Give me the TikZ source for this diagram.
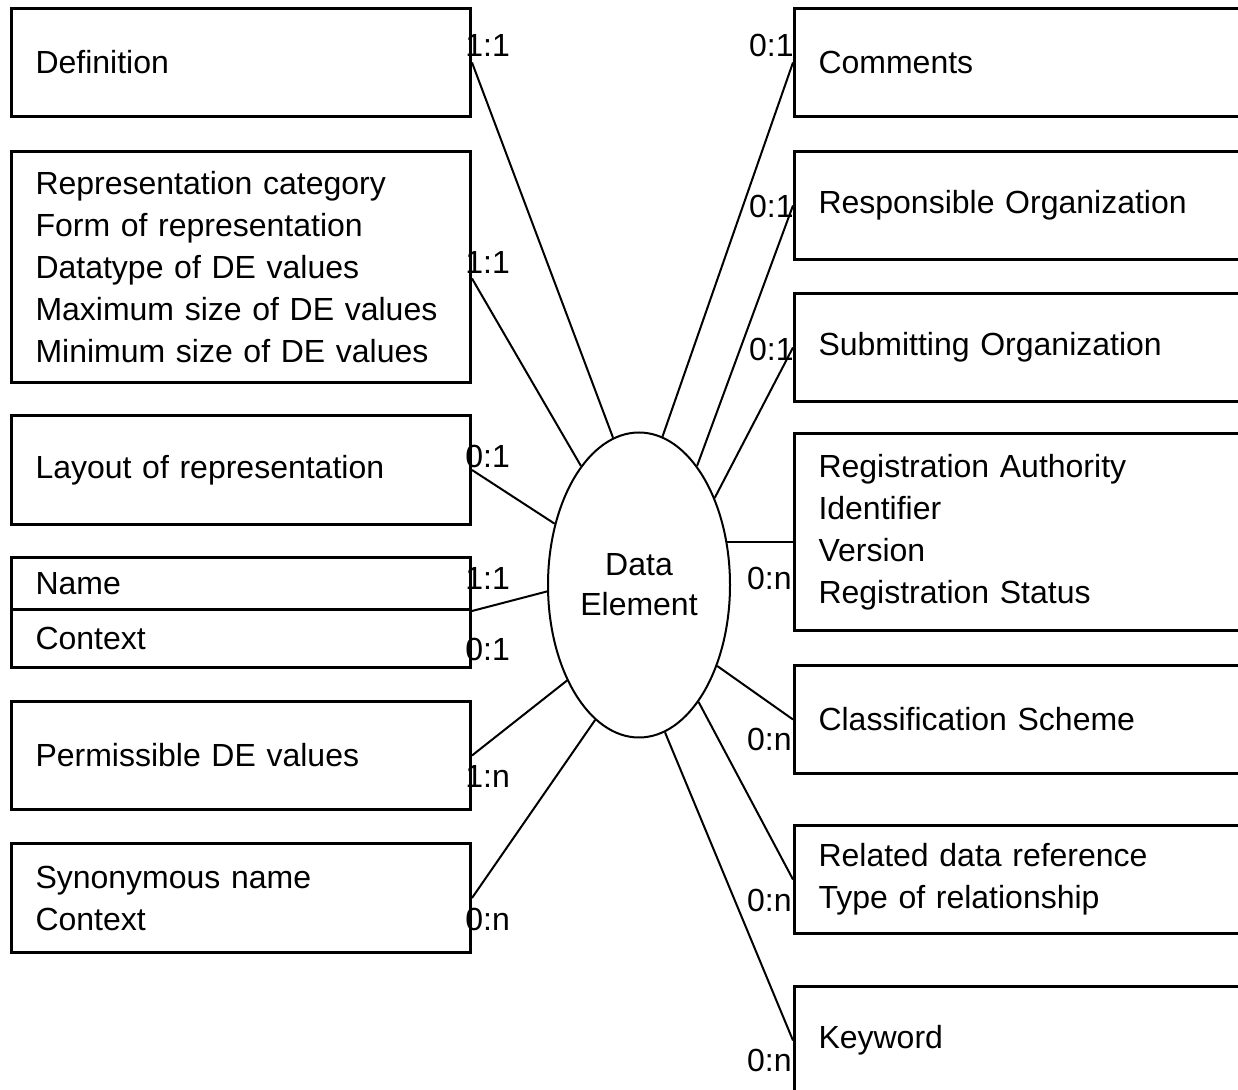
\documentclass[tikz,border=0pt]{standalone}
\usepackage{fontspec}
\setmainfont{Liberation Sans}
\usetikzlibrary{shapes.geometric, positioning}
\tikzset{
attr/.style={draw, line width=1.5pt, anchor=north west, align=left, text width=205.5pt, inner xsep=12pt, inner ysep=0pt, font=\fontsize{16}{21}\selectfont}, % the attribute boxes
card/.style={inner sep=0pt, font=\fontsize{16}{19}\selectfont}, % cardinality labels
link/.style={line width=1pt}, % the connectors
}

\begin{document}
\begin{tikzpicture}[x=0.5pt, y=-0.5pt]
                \useasboundingbox (0,0) rectangle (1238,1090);
                % left column
                \node[attr, minimum height=54pt] (def) at (10,7) {Definition};
                \node[attr, minimum height=115.5pt] (rep) at (10,150) {Representation category\\Form of representation\\Datatype of DE values\\Maximum size of DE values\\Minimum size of DE values};
                \node[attr, minimum height=54.5pt] (lay) at (10,414) {Layout of representation};
                \node[attr, minimum height=26pt] (name) at (10,556) {Name};
                \node[attr, minimum height=29pt] (ctx) at (10,608) {Context};
                \node[attr, minimum height=54pt] (perm) at (10,700) {Permissible DE values};
                \node[attr, minimum height=54.5pt] (syn) at (10,842) {Synonymous name\\Context};
                % right column
                \node[attr, minimum height=54pt] (com) at (793,7) {Comments};
                \node[attr, minimum height=54pt] (resp) at (793,150) {Responsible Organization};
                \node[attr, minimum height=54pt] (sub) at (793,292) {Submitting Organization};
                \node[attr, minimum height=98.5pt] (reg) at (793,432) {Registration Authority\\Identifier\\Version\\Registration Status};
                \node[attr, minimum height=54pt] (cls) at (793,664) {Classification Scheme};
                \node[attr, minimum height=54pt] (rel) at (793,824) {Related data reference\\Type of relationship};
                \node[attr, minimum height=54pt] (key) at (793,985) {Keyword};
                % centre
                \node[ellipse, draw, line width=1pt, minimum width=91pt, minimum height=152.5pt, inner sep=0pt, align=center, font=\fontsize{16}{20}\selectfont] (de) at (639,585) {Data\\Element};
                % cardinalities
                \node[card, anchor=west] (cdef) at (465,45) {1:1};
                \node[card, anchor=west] (crep) at (465,262) {1:1};
                \node[card, anchor=west] (clay) at (465,456) {0:1};
                \node[card, anchor=west] (cname) at (465,578) {1:1};
                \node[card, anchor=west] (cctx) at (465,649) {0:1};
                \node[card, anchor=west] (cperm) at (465,776) {1:n};
                \node[card, anchor=west] (csyn) at (465,919) {0:n};
                \node[card, anchor=east] (ccom) at (794,45) {0:1};
                \node[card, anchor=east] (cresp) at (794,206) {0:1};
                \node[card, anchor=east] (csub) at (794,349) {0:1};
                \node[card, anchor=east] (creg) at (792,578) {0:n};
                \node[card, anchor=east] (ccls) at (792,739) {0:n};
                \node[card, anchor=east] (crel) at (792,900) {0:n};
                \node[card, anchor=east] (ckey) at (792,1060) {0:n};
                \draw[link]
                    (def.east) edge (de.100.9)
                    ([yshift=-5.75pt]rep.east) edge (de.116.6)
                    (lay.east) edge (de.144.5)
                    (name.south east) edge (de.184.4)
                    (perm.east) edge (de.233.3)
                    (syn.east) edge (de.252.5)
                    (com.west) edge (de.81)
                    (resp.west) edge (de.64.2)
                    (sub.west) edge (de.49.2)
                    (de.26.8) edge (de.26.8 -| reg.west)
                    (cls.west) edge (de.-46.5)
                    (rel.west) edge (de.-63.6)
                    (key.west) edge (de.-80.9)
                    ;
\end{tikzpicture}
\end{document}
